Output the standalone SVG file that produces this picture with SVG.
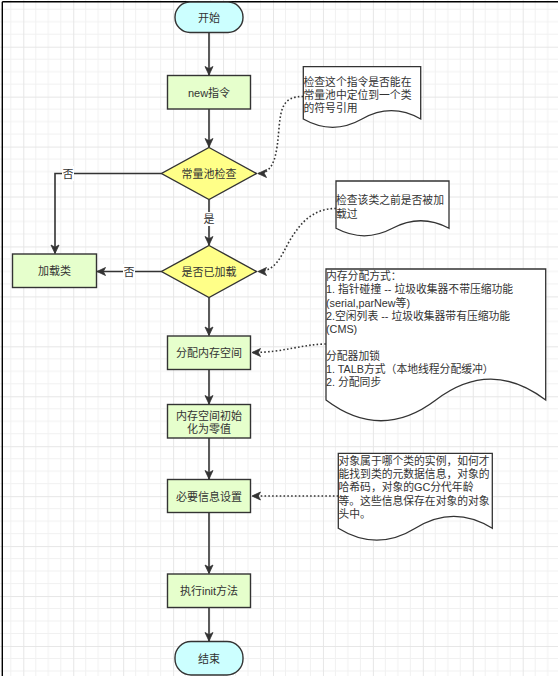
<svg xmlns="http://www.w3.org/2000/svg" width="558" height="676" viewBox="0 0 558 676">
<style>
text{font-family:"Liberation Sans","Noto Sans CJK SC",sans-serif;font-size:11px;fill:#333}
.c{text-anchor:middle;dominant-baseline:central}
.l{text-anchor:start;dominant-baseline:central;font-size:10.8px}
.term{fill:#ccffff;stroke:#333;stroke-width:1.4}
.proc{fill:#e6ffcc;stroke:#333;stroke-width:1.4}
.dec{fill:#ffff88;stroke:#333;stroke-width:1.4}
.note{fill:#fff;stroke:#333;stroke-width:1.3}
.edge{fill:none;stroke:#333;stroke-width:1.6}
.dot{fill:none;stroke:#333;stroke-width:1.6;stroke-dasharray:1.6 2.2}
.lbl{fill:#fff}
</style>
<defs>
<pattern id="grid" patternUnits="userSpaceOnUse" x="23.3" y="46.7" width="49.94" height="49.94">
<path d="M12.49,0V49.94M24.97,0V49.94M37.46,0V49.94M0,12.49H49.94M0,24.97H49.94M0,37.46H49.94" stroke="#f1f1f1" stroke-width="1" fill="none"/>
<path d="M0.5,0V49.94M0,0.5H49.94" stroke="#e6e6e6" stroke-width="1" fill="none"/>
</pattern>
<marker id="arr" markerUnits="userSpaceOnUse" markerWidth="10" markerHeight="10" refX="8.5" refY="4" orient="auto" overflow="visible">
<path d="M0,0 L8.5,4 L0,8 L2.2,4 z" fill="#333" stroke="#333" stroke-width="0.8"/>
</marker>
</defs>
<rect x="0" y="0" width="558" height="676" fill="#fff"/>
<rect x="0" y="0" width="558" height="676" fill="url(#grid)"/>
<path d="M2.3,1.8H558M2.3,1.8V676" stroke="#000" stroke-width="1.4" fill="none"/>

<g id="connectors">
<path class="edge" d="M209,32.5V75" marker-end="url(#arr)"/>
<path class="edge" d="M209,109V147" marker-end="url(#arr)"/>
<path class="edge" d="M161.5,173.5H55V253.5" marker-end="url(#arr)"/>
<path class="edge" d="M209,199.5V245" marker-end="url(#arr)"/>
<path class="edge" d="M161.5,271.5H97" marker-end="url(#arr)"/>
<path class="edge" d="M209,297.5V335.5" marker-end="url(#arr)"/>
<path class="edge" d="M209,369.5V404" marker-end="url(#arr)"/>
<path class="edge" d="M209,438V479" marker-end="url(#arr)"/>
<path class="edge" d="M209,512.5V573.5" marker-end="url(#arr)"/>
<path class="edge" d="M209,607.5V641" marker-end="url(#arr)"/>
<path class="dot" d="M303.3,96.5C284,96.5 281,106 279,128C277,152 275,173.5 258,173.5" marker-end="url(#arr)"/>
<path class="dot" d="M336,208.5C312,208.5 300,224 290,240C281,256 276,271.5 258,271.5" marker-end="url(#arr)"/>
<path class="dot" d="M326,344C300,344.5 284,352.5 252,352.5" marker-end="url(#arr)"/>
<path class="dot" d="M338.3,496H252" marker-end="url(#arr)"/>
<rect class="lbl" x="62" y="166" width="12" height="15"/>
<text class="c" x="68" y="174">否</text>
<rect class="lbl" x="203" y="212" width="12" height="14"/>
<text class="c" x="209" y="219">是</text>
<rect class="lbl" x="123" y="264" width="12" height="15"/>
<text class="c" x="129" y="272">否</text>
</g>

<g id="start"><rect class="term" x="175" y="2" width="68" height="30.5" rx="15"/><text class="c" x="209" y="17.5">开始</text></g>
<g id="new"><rect class="proc" x="167.5" y="75.5" width="83" height="33.5"/><text class="c" x="209" y="92.5">new指令</text></g>
<g id="check-pool"><polygon class="dec" points="209,147.5 256.5,173.5 209,199.5 161.5,173.5"/><text class="c" x="209" y="174">常量池检查</text></g>
<g id="loaded"><polygon class="dec" points="209,245.5 256.5,271.5 209,297.5 161.5,271.5"/><text class="c" x="209" y="272">是否已加载</text></g>
<g id="load-class"><rect class="proc" x="12.5" y="254" width="84" height="33.5"/><text class="c" x="54.5" y="271">加载类</text></g>
<g id="alloc"><rect class="proc" x="167.5" y="336" width="83" height="33.5"/><text class="c" x="209" y="353">分配内存空间</text></g>
<g id="zero"><rect class="proc" x="167.5" y="404.5" width="83" height="33.5"/><text class="c" x="209" y="415.5">内存空间初始</text><text class="c" x="209" y="428.5">化为零值</text></g>
<g id="header"><rect class="proc" x="167.5" y="479.5" width="83" height="33"/><text class="c" x="209" y="496.5">必要信息设置</text></g>
<g id="init"><rect class="proc" x="167.5" y="574" width="83" height="33.5"/><text class="c" x="209" y="591">执行init方法</text></g>
<g id="end"><rect class="term" x="175" y="641.5" width="68" height="33.5" rx="16"/><text class="c" x="209" y="658.5">结束</text></g>

<g id="note1"><path class="note" d="M303.3,66.7H420.7V119Q391.35,102.4 362,119Q332.65,135.6 303.3,119Z"/>
<text class="l" x="303.5" y="82">检查这个指令是否能在</text><text class="l" x="303.5" y="95">常量池中定位到一个类</text><text class="l" x="303.5" y="108">的符号引用</text></g>
<g id="note2"><path class="note" d="M336,181H449V228.3Q420.75,213.25 392.5,228.3Q364.25,243.3 336,228.3Z"/>
<text class="l" x="336" y="200">检查该类之前是否被加</text><text class="l" x="336" y="213.5">载过</text></g>
<g id="note3"><path class="note" d="M326,269H545.7V400Q490.8,358.3 435.85,400Q380.9,441.5 326,400Z"/>
<text class="l" x="326" y="276">内存分配方式：</text>
<text class="l" x="326" y="289.3">1. 指针碰撞 -- 垃圾收集器不带压缩功能</text>
<text class="l" x="326" y="302.6">(serial,parNew等)</text>
<text class="l" x="326" y="315.9">2.空闲列表 -- 垃圾收集器带有压缩功能</text>
<text class="l" x="326" y="329.2">(CMS)</text>
<text class="l" x="326" y="355.8">分配器加锁</text>
<text class="l" x="326" y="369.1">1. TALB方式（本地线程分配缓冲）</text>
<text class="l" x="326" y="382.4">2. 分配同步</text></g>
<g id="note4"><path class="note" d="M338.3,453.3H492.3V528.3Q453.8,504.5 415.3,528.3Q376.8,552.1 338.3,528.3Z"/>
<text class="l" x="338.5" y="460.7">对象属于哪个类的实例，如何才</text>
<text class="l" x="338.5" y="474">能找到类的元数据信息，对象的</text>
<text class="l" x="338.5" y="487.3">哈希码，对象的GC分代年龄</text>
<text class="l" x="338.5" y="500.6">等。这些信息保存在对象的对象</text>
<text class="l" x="338.5" y="513.9">头中。</text></g>
</svg>
